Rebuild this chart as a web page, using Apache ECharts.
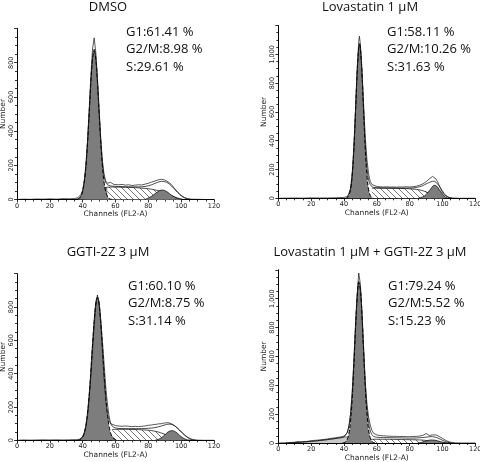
<!DOCTYPE html>
<html>
<head>
<meta charset="utf-8">
<script src="https://cdn.jsdelivr.net/npm/echarts@6/dist/echarts.min.js"></script>
<style>html,body{margin:0;padding:0;background:#fff}#c{width:480px;height:462px}</style>
</head>
<body>
<div id="c"></div>
<script>
// ---------- DATA (channel, count) ----------
const titles = ['DMSO', 'Lovastatin 1 \u03bcM', 'GGTI-2Z 3 \u03bcM', 'Lovastatin 1 \u03bcM + GGTI-2Z 3 \u03bcM'];
const g1Pct = ['61.41', '58.11', '60.10', '79.24'];
const g2Pct = ['8.98', '10.26', '8.75', '5.52'];
const sPct = ['29.61', '31.63', '31.14', '15.23'];
const yMax = [1000, 1200, 1000, 1200];
const xMax = 120;

// DMSO
const dmsoData = [[0,0],[4,2],[8,1],[12,3],[16,2],[20,4],[24,2],[28,5],[32,4],[35,6],[37,10],[38,18],[39,30],[40,55],[41,110],[42,205],[43,350],[44,530],[45,720],[46,880],[47,945],[48,860],[49,710],[50,530],[51,360],[52,230],[53,150],[54,110],[55,95],[56,92],[57,100],[58,92],[59,88],[60,92],[62,86],[64,88],[66,84],[68,86],[70,82],[72,84],[74,86],[76,85],[78,90],[80,95],[82,102],[84,108],[86,115],[88,118],[90,114],[92,104],[94,88],[96,64],[98,42],[100,24],[102,12],[104,5],[106,2],[110,1],[115,0],[120,0]];
const dmsoModel = [[36,2],[38,8],[40,50],[42,200],[44,515],[45,695],[46,830],[47,880],[48,830],[49,695],[50,520],[51,350],[52,215],[53,135],[54,100],[55,88],[56,82],[58,78],[62,76],[66,75],[70,74],[74,74],[78,76],[82,86],[85,98],[88,106],[90,104],[92,96],[94,80],[96,60],[98,40],[100,22],[102,10],[104,3],[106,0]];
const dmsoG1 = [[37,2],[38,7],[39,20],[40,48],[41,103],[42,197],[43,336],[44,510],[45,686],[46,820],[47,870],[48,820],[49,686],[50,510],[51,336],[52,197],[53,103],[54,48],[55,20],[56,7],[57,2],[58,0]];
const dmsoS = [[41,0],[43,12],[45,28],[47,42],[49,54],[51,63],[53,69],[55,72],[58,73],[62,72],[66,71],[70,70],[74,68],[78,65],[82,60],[86,52],[90,40],[93,28],[96,15],[99,5],[101,0]];
const dmsoG2 = [[78,0],[80,9],[82,19],[84,33],[86,47],[88,55],[89,55],[90,52],[92,41],[94,26],[96,14],[98,6],[100,2],[102,0]];

// Lovastatin 1 uM
const lovData = [[0,0],[5,1],[10,2],[15,1],[20,3],[25,2],[30,2],[35,4],[40,6],[42,12],[43,30],[44,70],[45,170],[46,350],[47,610],[48,890],[49,1090],[49.4,1126],[50,1070],[51,880],[52,640],[53,420],[54,270],[55,170],[56,118],[57,96],[58,86],[60,82],[62,80],[64,78],[66,80],[68,78],[70,79],[72,77],[74,79],[76,78],[78,80],[80,79],[82,80],[84,84],[86,90],[88,100],[90,115],[92,135],[93,148],[94,152],[95,148],[96,135],[97,115],[98,90],[99,65],[100,42],[101,25],[102,14],[104,5],[106,2],[110,0],[120,0]];
const lovModel = [[42,6],[44,64],[45,162],[46,340],[47,598],[48,870],[49,1050],[49.5,1075],[50,1050],[51,870],[52,610],[53,370],[54,210],[55,128],[56,95],[57,82],[58,76],[62,73],[66,72],[70,72],[74,71],[78,71],[82,72],[86,80],[88,88],[90,100],[92,110],[94,118],[95,118],[96,112],[98,85],[100,50],[102,20],[104,6],[106,1]];
const lovG1 = [[41,0],[42,5],[43,20],[44,61],[45,158],[46,336],[47,593],[48,865],[49,1045],[49.5,1070],[50,1045],[51,865],[52,593],[53,336],[54,158],[55,61],[56,20],[57,5],[58,0]];
const lovS = [[43,0],[45,10],[47,25],[49,40],[51,53],[53,62],[55,68],[57,70],[60,70],[65,70],[70,69],[75,68],[80,66],[84,62],[87,56],[90,45],[93,30],[96,15],[99,5],[101,0]];
const lovG2 = [[85,0],[87,5],[89,16],[91,38],[93,68],[95,90],[96,88],[97,78],[99,45],[101,15],[103,2],[104,0]];

// GGTI-2Z 3 uM
const ggtiData = [[0,0],[4,2],[8,1],[12,2],[16,3],[20,2],[24,3],[28,2],[32,3],[34,4],[35,10],[36,4],[38,6],[40,20],[41,40],[42,80],[43,150],[44,255],[45,390],[46,540],[47,690],[48,810],[49,872],[50,820],[51,700],[52,540],[53,380],[54,250],[55,165],[56,118],[57,100],[58,92],[60,88],[62,86],[64,84],[66,86],[68,84],[70,82],[72,84],[74,82],[76,84],[78,86],[80,90],[82,92],[84,95],[86,98],[88,100],[90,104],[92,106],[94,100],[96,88],[98,70],[100,50],[102,32],[104,18],[106,8],[108,3],[110,1],[114,0],[120,0]];
const ggtiModel = [[38,3],[40,21],[42,92],[44,278],[46,580],[48,830],[49,860],[50,830],[52,600],[54,330],[55,225],[56,150],[57,105],[58,85],[60,74],[64,70],[68,70],[72,70],[76,70],[80,72],[84,76],[88,86],[91,95],[93,97],[95,92],[97,80],[99,62],[101,42],[103,24],[105,10],[107,3],[109,0]];
const ggtiG1 = [[37,0],[38,3],[39,9],[40,21],[41,45],[42,90],[43,164],[44,271],[45,410],[46,566],[47,712],[48,817],[49,855],[50,817],[51,712],[52,566],[53,410],[54,271],[55,164],[56,90],[57,45],[58,21],[59,9],[60,3],[61,0]];
const ggtiS = [[42,0],[44,8],[46,18],[48,30],[50,42],[52,52],[54,59],[56,63],[58,65],[62,66],[66,66],[70,65],[74,64],[78,62],[82,58],[86,50],[89,40],[92,28],[95,16],[98,6],[101,0]];
const ggtiG2 = [[84,0],[86,5],[88,16],[90,32],[92,50],[94.5,58],[97,48],[99,30],[101,15],[103,5],[105,1],[106,0]];

// Lovastatin 1 uM + GGTI-2Z 3 uM
const comboData = [[0,0],[4,2],[8,4],[10,6],[12,10],[14,8],[16,10],[18,12],[20,16],[22,18],[24,20],[26,22],[28,25],[30,28],[32,32],[34,35],[36,38],[38,42],[40,48],[41,52],[42,70],[43,110],[44,200],[45,350],[46,560],[47,800],[48,1020],[49,1178],[50,1100],[51,900],[52,650],[53,420],[54,270],[55,180],[56,125],[57,88],[58,68],[60,56],[62,52],[64,50],[66,48],[68,47],[70,46],[72,46],[74,45],[76,45],[78,44],[80,44],[82,45],[84,46],[86,48],[88,52],[89,60],[90,66],[91,55],[92,52],[94,56],[95,58],[96,56],[98,45],[100,32],[102,18],[104,8],[106,3],[108,1],[112,0],[120,0]];
const comboModel = [[6,0],[10,3],[14,6],[18,10],[22,14],[26,19],[30,24],[34,30],[38,37],[40,42],[42,75],[43,120],[44,200],[45,340],[46,560],[47,810],[48,1010],[49,1120],[50,1070],[51,890],[52,640],[53,410],[54,240],[55,140],[56,85],[57,58],[58,46],[60,40],[64,38],[68,37],[72,36],[76,35],[80,34],[84,35],[88,38],[91,42],[93,44],[95,42],[97,35],[99,25],[101,14],[103,6],[105,2],[107,0]];
const comboDebris = [[5,0],[8,2],[12,4],[16,7],[20,10],[24,14],[28,20],[32,26],[36,33],[40,40],[43,45],[46,48],[50,40],[54,25],[58,10],[62,2],[65,0]];
const comboG1 = [[39,0],[40,2],[41,8],[42,24],[43,65],[44,151],[45,302],[46,523],[47,779],[48,1002],[49,1112],[50,1063],[51,877],[52,624],[53,383],[54,203],[55,92],[56,36],[57,12],[58,4],[59,0]];
const comboS = [[44,0],[47,8],[50,16],[53,22],[56,25],[60,26],[65,26],[70,25],[75,24],[80,23],[84,22],[88,20],[92,15],[96,8],[100,2],[102,0]];
const comboG2 = [[85,0],[87,4],[89,10],[91,17],[93,21],[95,20],[97,15],[99,9],[101,4],[103,1],[105,0]];

const panels = [
  {data: dmsoData, model: dmsoModel, g1: dmsoG1, s: dmsoS, g2: dmsoG2, debris: null, split: 55},
  {data: lovData, model: lovModel, g1: lovG1, s: lovS, g2: lovG2, debris: null, split: 56},
  {data: ggtiData, model: ggtiModel, g1: ggtiG1, s: ggtiS, g2: ggtiG2, debris: null, split: 57},
  {data: comboData, model: comboModel, g1: comboG1, s: comboS, g2: comboG2, debris: comboDebris, split: 56}
];

// ---------- LAYOUT / STYLE ----------
const grids = [
  {left: 17, top: 28.5, width: 197, height: 171},
  {left: 278.3, top: 25.5, width: 197, height: 172.8},
  {left: 17, top: 273.6, width: 197, height: 166.7},
  {left: 278.3, top: 269.8, width: 197, height: 173.2}
];
const titlePos = [[108, 7], [370, 7], [108, 252], [370, 252]];
const annoPos = [[126, 32], [387, 32], [128, 286], [388, 286]];
const DARK = '#7d7d7d', LIGHT = '#c8c8c8';

function hatch() {
  const c = document.createElement('canvas');
  c.width = 6; c.height = 6;
  const g = c.getContext('2d');
  g.fillStyle = '#fff'; g.fillRect(0, 0, 6, 6);
  g.strokeStyle = '#555'; g.lineWidth = 0.8;
  g.beginPath();
  g.moveTo(0, 0); g.lineTo(6, 6);
  g.moveTo(-3, 3); g.lineTo(3, 9);
  g.moveTo(3, -3); g.lineTo(9, 3);
  g.stroke();
  return c;
}
const hatchPattern = {image: hatch(), repeat: 'repeat'};

const tickFont = {fontFamily: 'DejaVu Sans', fontSize: 6.5, color: '#222'};
const xAxes = [], yAxes = [], series = [], graphics = [];

panels.forEach((p, i) => {
  xAxes.push({
    type: 'value', gridIndex: i, min: 0, max: xMax, interval: 20,
    name: 'Channels (FL2-A)', nameLocation: 'middle', nameGap: 8,
    nameTextStyle: {fontFamily: 'DejaVu Sans', fontSize: 7.5, color: '#222'},
    axisLine: {show: true, onZero: false, lineStyle: {color: '#000', width: 1}},
    axisTick: {show: true, length: 3, lineStyle: {color: '#000', width: 0.8}},
    minorTick: {show: true, splitNumber: 4, length: 2, lineStyle: {color: '#000', width: 0.8}},
    axisLabel: Object.assign({margin: 3}, tickFont),
    splitLine: {show: false}
  });
  yAxes.push({
    type: 'value', gridIndex: i, min: 0, max: yMax[i], interval: 200,
    name: 'Number', nameLocation: 'middle', nameGap: 9, nameRotate: 90,
    nameTextStyle: {fontFamily: 'DejaVu Sans', fontSize: 7.5, color: '#222'},
    axisLine: {show: true, lineStyle: {color: '#000', width: 1}},
    axisTick: {show: true, length: 3, lineStyle: {color: '#000', width: 0.8}},
    minorTick: {show: true, splitNumber: 4, length: 2, lineStyle: {color: '#000', width: 0.8}},
    axisLabel: Object.assign({margin: 2, rotate: 90, showMaxLabel: false}, tickFont),
    splitLine: {show: false}
  });
  const base = {type: 'line', xAxisIndex: i, yAxisIndex: i, symbol: 'none', silent: true, animation: false};
  if (p.debris) {
    series.push(Object.assign({}, base, {data: p.debris, smooth: 0.3, z: 1,
      lineStyle: {color: '#333', width: 0.6}, areaStyle: {color: LIGHT, opacity: 1}}));
  }
  series.push(Object.assign({}, base, {data: p.s.filter(d => d[0] >= p.split), smooth: 0.3, z: 2,
    lineStyle: {color: '#000', width: 0.7}, areaStyle: {color: hatchPattern, opacity: 1}}));
  series.push(Object.assign({}, base, {data: p.s.filter(d => d[0] <= p.split), smooth: 0.3, z: 3,
    lineStyle: {color: '#000', width: 0.7}, areaStyle: {color: DARK, opacity: 1}}));
  series.push(Object.assign({}, base, {data: p.g2, smooth: 0.4, z: 3,
    lineStyle: {color: '#000', width: 0.7}, areaStyle: {color: DARK, opacity: 1}}));
  series.push(Object.assign({}, base, {data: p.g1, smooth: 0.4, z: 4,
    lineStyle: {color: '#000', width: 1, type: [4, 2]}, areaStyle: {color: DARK, opacity: 1}}));
  series.push(Object.assign({}, base, {data: p.model, smooth: 0.3, z: 5,
    lineStyle: {color: '#000', width: 0.7}}));
  series.push(Object.assign({}, base, {data: p.data, smooth: false, z: 6,
    lineStyle: {color: '#111', width: 0.7}}));

  graphics.push({type: 'text', left: titlePos[i][0], top: titlePos[i][1], silent: true,
    style: {text: titles[i], x: titlePos[i][0], y: titlePos[i][1], align: 'center', verticalAlign: 'middle',
      fontFamily: 'Open Sans', fontSize: 13, fill: '#111'}});
  const lines = ['G1:' + g1Pct[i] + ' %', 'G2/M:' + g2Pct[i] + ' %', 'S:' + sPct[i] + ' %'];
  lines.forEach((t, k) => {
    graphics.push({type: 'text', silent: true,
      style: {text: t, x: annoPos[i][0], y: annoPos[i][1] + k * 17.5, align: 'left', verticalAlign: 'middle',
        fontFamily: 'Open Sans', fontSize: 13, fill: '#111'}});
  });
});
// title graphics: use x/y in style; remove left/top layout keys
graphics.forEach(g => { delete g.left; delete g.top; });

const chart = echarts.init(document.getElementById('c'), null, {renderer: 'canvas'});
chart.setOption({
  backgroundColor: '#fff',
  animation: false,
  grid: grids.map(g => Object.assign({containLabel: false, outerBoundsMode: 'none'}, g)),
  xAxis: xAxes,
  yAxis: yAxes,
  series: series,
  graphic: {elements: graphics}
});
</script>
</body>
</html>
